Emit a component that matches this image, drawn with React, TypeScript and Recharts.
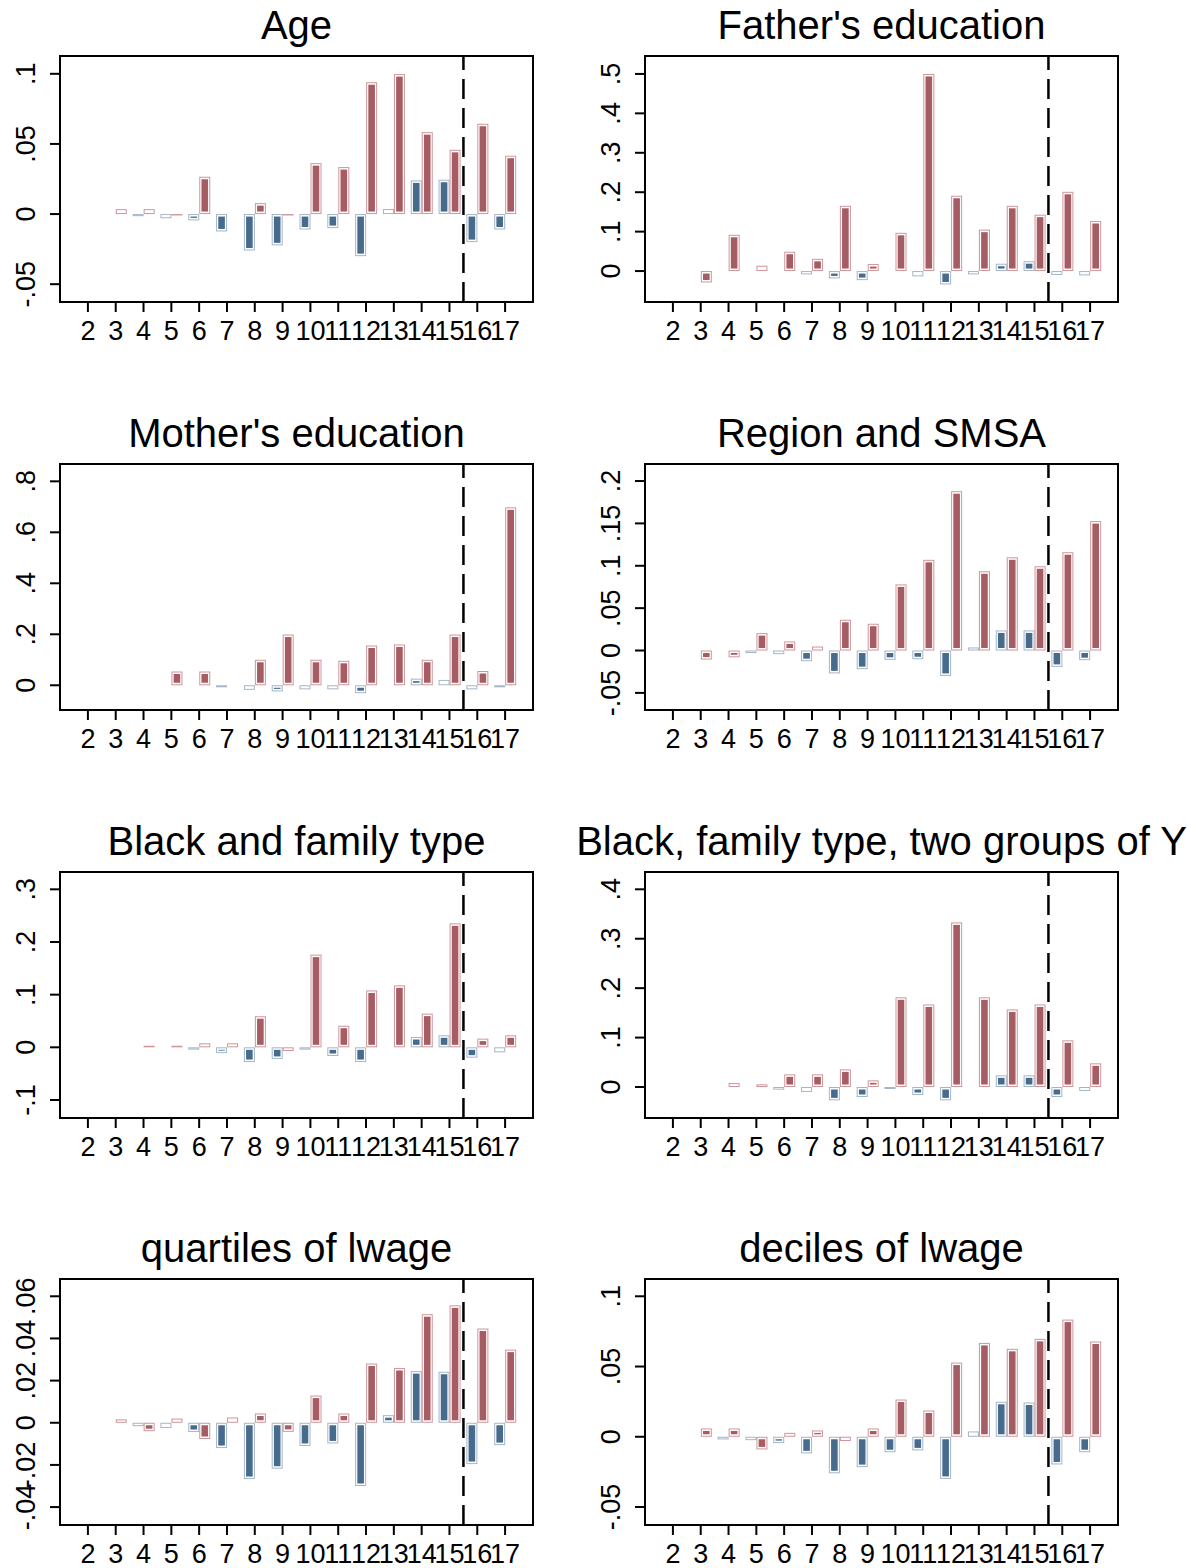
import React from 'react';
import { BarChart, Bar, XAxis, YAxis, ReferenceLine, ReferenceArea } from 'recharts';

const CATS = ['2', '3', '4', '5', '6', '7', '8', '9', '10', '11', '12', '13', '14', '15', '16', '17'];

const TITLES = [
  'Age',
  "Father's education",
  "Mother's education",
  'Region and SMSA',
  'Black and family type',
  'Black, family type, two groups of Y',
  'quartiles of lwage',
  'deciles of lwage',
];

const ageBlue = [0, 0, -0.0015, -0.003, -0.0045, -0.0124, -0.026, -0.0223, -0.011, -0.01, -0.03, 0.0036, 0.024, 0.0245, -0.02, -0.011];
const ageRed = [0, 0.0035, 0.0035, -0.001, 0.0266, 0.0005, 0.0078, -0.001, 0.0363, 0.0335, 0.094, 0.0998, 0.0584, 0.0458, 0.0644, 0.0416];

const fatherBlue = [0, 0, 0.001, 0.001, -0.002, -0.0085, -0.0186, -0.023, -0.002, -0.0135, -0.034, -0.0085, 0.0186, 0.025, -0.01, -0.011];
const fatherRed = [0, -0.029, 0.092, 0.0135, 0.049, 0.031, 0.1655, 0.0177, 0.097, 0.5, 0.191, 0.105, 0.1655, 0.143, 0.201, 0.127];

const motherBlue = [0, 0, 0, 0, -0.001, -0.008, -0.018, -0.024, -0.016, -0.016, -0.031, 0, 0.026, 0.021, -0.016, -0.008];
const motherRed = [0, 0, 0, 0.054, 0.054, 0.002, 0.1, 0.199, 0.1, 0.096, 0.156, 0.16, 0.1, 0.199, 0.056, 0.698];

const regionBlue = [0, 0, 0.001, -0.003, -0.0043, -0.0126, -0.027, -0.022, -0.011, -0.0103, -0.03, 0.0036, 0.0237, 0.0237, -0.0193, -0.0114];
const regionRed = [0, -0.0107, -0.008, 0.0205, 0.0107, 0.0047, 0.0363, 0.0316, 0.078, 0.107, 0.188, 0.0935, 0.11, 0.0994, 0.116, 0.1527];

const blackBlue = [0, 0, 0, 0, -0.0044, -0.011, -0.028, -0.022, -0.0044, -0.0165, -0.028, 0, 0.0196, 0.0228, -0.0196, -0.0095];
const blackRed = [0, 0, 0.003, 0.003, 0.0076, 0.0076, 0.059, -0.007, 0.176, 0.041, 0.108, 0.1177, 0.064, 0.2354, 0.0165, 0.0228];

const twoBlue = [0, 0, 0, 0.001, -0.0054, -0.01, -0.027, -0.0202, -0.004, -0.0162, -0.027, -0.001, 0.0236, 0.0236, -0.0202, -0.008];
const twoRed = [0, 0, 0.008, 0.0054, 0.0256, 0.0256, 0.0357, 0.0135, 0.1815, 0.167, 0.333, 0.1815, 0.157, 0.167, 0.0944, 0.0479];

const quartBlue = [0, 0, -0.0016, -0.0025, -0.0044, -0.012, -0.0267, -0.0218, -0.011, -0.0098, -0.03, 0.0036, 0.0245, 0.0242, -0.0196, -0.0106];
const quartRed = [0, 0.0016, -0.004, 0.002, -0.0077, 0.0025, 0.0044, -0.0043, 0.0129, 0.0044, 0.0281, 0.026, 0.0515, 0.0557, 0.0447, 0.0347];

const decBlue = [0, 0, -0.0019, -0.0024, -0.0045, -0.0118, -0.026, -0.0216, -0.011, -0.0097, -0.03, 0.0038, 0.0249, 0.0244, -0.0197, -0.011];
const decRed = [0, 0.0059, 0.0059, -0.009, 0.0028, 0.0045, -0.003, 0.0059, 0.0265, 0.0187, 0.0528, 0.0668, 0.0626, 0.0697, 0.0834, 0.0678];

const SERIES_BLUE = [ageBlue, fatherBlue, motherBlue, regionBlue, blackBlue, twoBlue, quartBlue, decBlue];
const SERIES_RED = [ageRed, fatherRed, motherRed, regionRed, blackRed, twoRed, quartRed, decRed];

const Y_TICKS = [
  [-0.05, 0, 0.05, 0.1],
  [0, 0.1, 0.2, 0.3, 0.4, 0.5],
  [0, 0.2, 0.4, 0.6, 0.8],
  [-0.05, 0, 0.05, 0.1, 0.15, 0.2],
  [-0.1, 0, 0.1, 0.2, 0.3],
  [0, 0.1, 0.2, 0.3, 0.4],
  [-0.04, -0.02, 0, 0.02, 0.04, 0.06],
  [-0.05, 0, 0.05, 0.1],
];

const Y_DOMAINS = [
  [-0.0627, 0.1127],
  [-0.0785, 0.5455],
  [-0.097, 0.868],
  [-0.0702, 0.2201],
  [-0.1342, 0.3329],
  [-0.0627, 0.435],
  [-0.0485, 0.0682],
  [-0.0628, 0.1123],
];

const SPLIT_AT = 15.5;

const FONT = 'Liberation Sans, Arial, Helvetica, sans-serif';
const RED_FILL = '#a55c62';
const RED_LINE = '#cf959a';
const BLUE_FILL = '#476b8c';
const BLUE_LINE = '#a3b6c8';

const FRAME_W = 473;
const FRAME_H = 246;
const COL_LEFT = [60, 645];
const ROW_TOP = [56, 464, 872, 1279];
const YAXIS_W = 60;
const MARGIN_TOP = 10;
const XAXIS_H = 50;
const TITLE_SIZE = 40;

const fmt = (v: number) => {
  if (v === 0) return '0';
  const s = String(Math.abs(v)).replace(/^0/, '');
  return (v < 0 ? '-' : '') + s;
};

const YTick = (props: any) => {
  const { x, y, payload } = props;
  const bx = x - 13;
  return (
    <text
      x={bx}
      y={y}
      transform={`rotate(-90 ${bx} ${y})`}
      textAnchor="middle"
      fontSize={27}
      fontFamily={FONT}
      fill="#000"
    >
      {fmt(payload.value)}
    </text>
  );
};

const makeShape = (fillC: string, lineC: string) => (props: any) => {
  const { x, y, width, height } = props;
  if (x == null || y == null || !isFinite(height)) return <g />;
  const top = Math.min(y, y + height);
  const h = Math.abs(height);
  if (h < 0.4) return <g />;
  const insetX = 2.2;
  const insetY = 2.5;
  return (
    <g>
      <rect
        x={x + 0.5}
        y={top + 0.5}
        width={Math.max(width - 1, 0)}
        height={Math.max(h - 1, 0)}
        fill="none"
        stroke={lineC}
        strokeWidth={1}
      />
      {h > 2 * insetY + 0.5 && (
        <rect x={x + insetX} y={top + insetY} width={width - 2 * insetX} height={h - 2 * insetY} fill={fillC} />
      )}
    </g>
  );
};

const blueShape = makeShape(BLUE_FILL, BLUE_LINE);
const redShape = makeShape(RED_FILL, RED_LINE);

const Panel = ({ idx }: { idx: number }) => {
  const col = idx % 2;
  const row = Math.floor(idx / 2);
  const frameLeft = COL_LEFT[col];
  const frameTop = ROW_TOP[row];
  const data = CATS.map((c, i) => ({
    cat: c,
    num: Number(c),
    blue: SERIES_BLUE[idx][i],
    red: SERIES_RED[idx][i],
  }));
  const dom = Y_DOMAINS[idx];
  const chartW = YAXIS_W + FRAME_W + 10;
  const chartH = MARGIN_TOP + FRAME_H + XAXIS_H;
  const cx = frameLeft + FRAME_W / 2;
  return (
    <>
      <div
        style={{
          position: 'absolute',
          left: cx - 450,
          width: 900,
          top: frameTop - 17 - 0.8465 * TITLE_SIZE,
          height: TITLE_SIZE,
          lineHeight: `${TITLE_SIZE}px`,
          fontSize: TITLE_SIZE,
          fontFamily: FONT,
          textAlign: 'center',
          whiteSpace: 'nowrap',
          color: '#000',
        }}
      >
        {TITLES[idx]}
      </div>
      <div style={{ position: 'absolute', left: frameLeft - YAXIS_W, top: frameTop - MARGIN_TOP }}>
        <BarChart
          width={chartW}
          height={chartH}
          data={data}
          margin={{ top: MARGIN_TOP, right: 10, left: 0, bottom: 0 }}
          barGap={0}
          barSize={11}
        >
          <XAxis
            dataKey="cat"
            type="category"
            interval={0}
            padding={{ left: 14, right: 14 }}
            height={XAXIS_H}
            tickSize={10}
            tickMargin={9}
            axisLine={{ stroke: '#000', strokeWidth: 2 }}
            tickLine={{ stroke: '#000', strokeWidth: 2 }}
            tick={{ fontSize: 27, fontFamily: FONT, fill: '#000' }}
          />
          <XAxis xAxisId="n" dataKey="num" type="number" domain={[1, 18]} allowDataOverflow hide />
          <YAxis
            type="number"
            domain={dom}
            ticks={Y_TICKS[idx]}
            allowDataOverflow
            width={YAXIS_W}
            tickSize={10}
            axisLine={{ stroke: '#000', strokeWidth: 2 }}
            tickLine={{ stroke: '#000', strokeWidth: 2 }}
            tick={<YTick />}
            interval={0}
          />
          <Bar dataKey="blue" fill={BLUE_FILL} shape={blueShape} isAnimationActive={false} />
          <Bar dataKey="red" fill={RED_FILL} shape={redShape} isAnimationActive={false} />
          <ReferenceLine
            xAxisId="n"
            x={SPLIT_AT}
            stroke="#000"
            strokeWidth={2.5}
            strokeDasharray="20 9"
            ifOverflow="visible"
          />
          <ReferenceArea
            xAxisId="n"
            x1={1}
            x2={18}
            y1={dom[0]}
            y2={dom[1]}
            fill="none"
            fillOpacity={0}
            stroke="#000"
            strokeWidth={2}
            ifOverflow="visible"
          />
        </BarChart>
      </div>
    </>
  );
};

export default function App() {
  return (
    <div
      style={{
        position: 'absolute',
        left: 0,
        top: 0,
        width: 1187,
        height: 1568,
        overflow: 'hidden',
        background: '#fff',
      }}
    >
      {TITLES.map((_, i) => (
        <Panel key={i} idx={i} />
      ))}
    </div>
  );
}
